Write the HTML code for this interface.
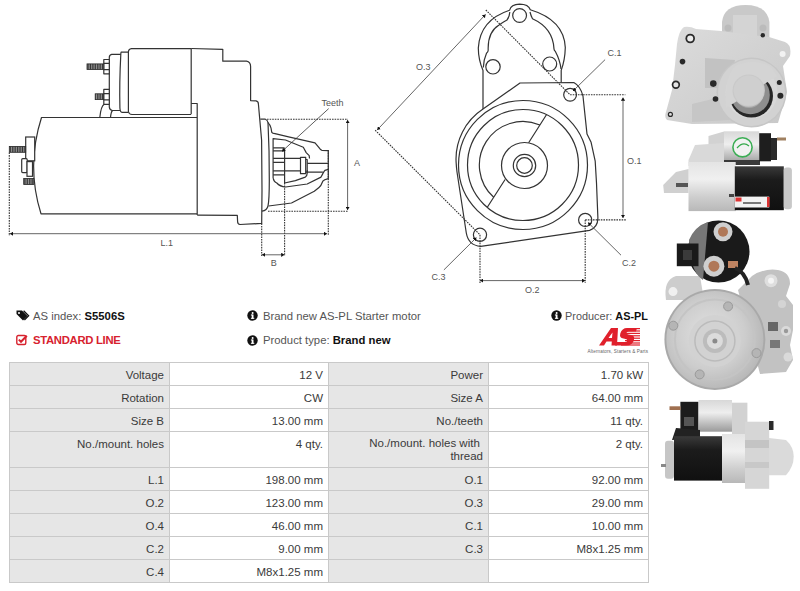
<!DOCTYPE html>
<html><head><meta charset="utf-8">
<style>
html,body{margin:0;padding:0;background:#fff;}
body{width:800px;height:591px;overflow:hidden;position:relative;font-family:"Liberation Sans",sans-serif;color:#333;}
.a{position:absolute;}
.t{position:absolute;white-space:nowrap;font-size:11.3px;line-height:14px;}
table{position:absolute;left:9px;top:362px;border-collapse:collapse;table-layout:fixed;font-size:11.5px;color:#3a3a3a;}
td{border:1px solid #c9c9c9;padding:0 5px 0 0;text-align:right;vertical-align:top;height:23px;line-height:14px;box-sizing:border-box;}
td div{padding-top:5px;}
td.l{background:#e6e6e6;}
td.v{background:#fff;}
tr.tall td{height:36px;}
</style></head><body>

<!--DRAWINGS-->
<svg class="a" style="left:0;top:0" width="650" height="300" viewBox="0 0 650 300">
<defs>
<pattern id="th" width="1.7" height="4" patternUnits="userSpaceOnUse"><rect width="1.7" height="4" fill="#bbb"/><rect width="1.1" height="4" fill="#333"/></pattern>
<marker id="ah" viewBox="0 0 3.2 4.2" refX="3.2" refY="2.1" markerWidth="3.2" markerHeight="4.2" markerUnits="userSpaceOnUse" orient="auto-start-reverse"><path d="M0 0 L3.2 2.1 L0 4.2 Z" fill="#111"/></marker>
</defs>
<g fill="none" stroke="#333" stroke-width="1.2" stroke-linejoin="round">
<!-- side view: motor -->
<path d="M197 117.5 L41.5 117.5 Q26 166 41 213.8 L197 213.8"/>
<!-- solenoid -->
<path d="M191.2 48.6 L131.5 48.6 Q128.4 49 128.4 52.2 L128.4 111.5 Q129 114.5 132 114.5 L191.2 114.5"/>
<path d="M128.4 52.05 L121.3 52.05 Q120.8 52.5 120.8 54.4 Q119.3 83 119.9 108 Q120.2 112.3 122 112.3 L128.4 112.3"/>
<path d="M120.8 54.4 L111.7 54.4 Q109.3 55 109.3 57.5 L109.3 107.2 Q109.8 110.5 112.5 110.5 L120 110.5"/>
<!-- solenoid mounting feet -->
<path d="M99.8 117.5 Q101 106 104.2 104.3"/>
<path d="M110.5 117.5 Q111 112 112.5 110.5"/>
<!-- bolts -->
<rect x="103.8" y="59.5" width="5.5" height="14.3" fill="#fff"/><path d="M103.8 63.3 H109.3 M103.8 69.7 H109.3"/>
<rect x="103.8" y="89.4" width="5.5" height="14.9" fill="#fff"/><path d="M103.8 93.6 H109.3 M103.8 99.9 H109.3"/>
<!-- housing -->
<path d="M191.2 48.5 L222.8 49.3 L222.8 61.2 L246.5 61.2 Q250.6 62 250.6 66.5 L250.6 100.6 L256 100.8 Q258.4 101.3 258.4 104 L261.6 140 L262 190 L261.7 223.4 L240 224.5 Q237.6 224.3 237.6 221.5 L237.3 215.4 L197.2 215.1"/>
<path d="M191.2 103.5 L197.2 103.5 L197.2 215.1"/>
<path d="M191.2 48.5 L191.2 114"/>
<!-- flange -->
<path d="M260.3 119.2 L265.4 119.2 Q267.5 120 268 122.5 Q269.4 150 269.3 180 Q269.3 200 268 206 Q267 210.3 262 211.2"/>
<!-- nose outer -->
<path d="M267.8 122.3 Q270.5 125 271 128 L271.8 132.3 Q272.5 133.3 275 133.6 L288.6 136.9 L315 142.8 L319 147.7 Q320.5 150 322 150.3 L328.3 150.6 L328.3 178.6 Q324 179.5 322.8 181.2 Q321 186 319 187.5 L314.3 191.3 L291.5 203 L268.6 206"/>
<!-- pocket -->
<path d="M273.1 178.1 L273.1 138.6 L285.5 140 L303.3 147.2 L306.2 152.6 L309.2 155.6 L309.5 158.5"/>
<path d="M273.1 178.1 Q274 182 276.8 183 Q280 186.5 285.6 187 L307.2 184 L321 177.1 Q323.5 172 324.9 170.3 L328.3 169.3"/>
<path d="M284.6 183 L295.4 180.6 L305.3 177.1 Q307.2 175.5 307.2 173.2 L307.2 170.3"/>
<path d="M284.6 148.2 L284.6 183"/>
<path d="M273.1 147.8 H284.6 M273.1 150.8 H284.6 M273.1 158.3 H284.6 M273.1 162.3 H284.6 M273.1 170.8 H284.6 M273.1 174.9 H284.6"/>
<path d="M284.6 158.3 H300.5 M284.6 170.8 H300.5"/>
<rect x="300.5" y="157.3" width="5.2" height="16.4"/>
<path d="M305.7 159.5 H307.2 V172.2 H305.7"/>
<path d="M307.2 163.4 H328.3 M307.2 172.2 H322.9"/>
<!-- teeth leader -->
<path d="M328.7 108.6 L282 151.4" marker-end="url(#ah)" stroke-width="0.8"/>
</g>
<!-- threads -->
<rect x="87" y="63.9" width="16.8" height="5.6" fill="url(#th)" stroke="#262626" stroke-width="0.8"/>
<rect x="95.2" y="93.8" width="8.5" height="5.8" fill="url(#th)" stroke="#262626" stroke-width="0.8"/>
<!-- rear terminals -->
<g fill="#fff" stroke="#333" stroke-width="1.2">
<rect x="25.7" y="137" width="9" height="23.8"/>
<rect x="21.7" y="158.7" width="5.5" height="13.9" rx="1"/>
<rect x="27" y="161.6" width="5.5" height="14.7"/>
</g>
<rect x="9.3" y="146.4" width="16.4" height="5.9" fill="url(#th)" stroke="#262626" stroke-width="0.8"/>
<rect x="23.7" y="178.5" width="10.1" height="6" fill="url(#th)" stroke="#262626" stroke-width="0.8"/>

<!-- side view dims -->
<g fill="none" stroke="#333" stroke-width="1.1" stroke-dasharray="1.6 1">
<path d="M9.3 152.5 V236"/>
<path d="M267 119.2 H348"/>
<path d="M268 211.2 H348"/>
<path d="M328.3 150 V235"/>
<path d="M261.7 223.4 V256"/>
<path d="M284.6 183 V256"/>
</g>
<g fill="none" stroke="#555" stroke-width="0.9">
<path d="M10 233.7 H327" marker-start="url(#ah)" marker-end="url(#ah)"/>
<path d="M347.6 120 V210" marker-start="url(#ah)" marker-end="url(#ah)"/>
<path d="M262 254.8 H284.4" marker-start="url(#ah)" marker-end="url(#ah)"/>
</g>
<g font-family="Liberation Sans" font-size="9" fill="#555">
<text x="160.5" y="245.6">L.1</text>
<text x="270.8" y="265.8">B</text>
<text x="354" y="166">A</text>
<text x="321.5" y="106">Teeth</text>
</g>

<!-- FRONT VIEW -->
<g fill="none" stroke="#333" stroke-width="1.2" stroke-linejoin="round">
<!-- ear -->
<path d="M483 109 L483 70.4 Q478.4 60 478.3 48 Q480 20 509.5 10.3 Q511 4.3 519.6 4.2 Q528.5 4.3 530.3 9.8 Q564 20 565.3 47.5 Q565 60 561.2 70.4 L561.2 82.5"/>
<path d="M483.3 67.5 Q483.5 60 486.5 53.2 Q488.2 52 488.2 50.3 Q487.5 32 498.7 25.2 Q505 21 507 20 Q509.5 17 509.8 12"/>
<path d="M561 69 Q560 60 555.5 51.7 Q554 50 554 48.9 Q553 28 532.5 18.7 Q531 16 530 12"/>
<circle cx="519.6" cy="15.5" r="6.9"/>
<circle cx="493" cy="66.8" r="7.2"/>
<circle cx="549.7" cy="64" r="7"/>
<!-- housing plate -->
<path d="M573.8 82.5 L520 83 L483 109 A59.8 59.8 0 0 0 456.1 162 Q456.3 166 457 172 L466.3 233 Q468.5 245.5 480.7 246.3 L589.6 230.4 Q597.8 227.5 597.9 218 L596.5 182.9 L595.2 161.2 L591.1 142.3 L587 134.1 L583 96.2 Q580.5 86 573.8 82.5 Z"/>
<circle cx="523" cy="165" r="64.5"/>
<circle cx="523" cy="165" r="55.5"/>
<path d="M539.9 125 A43.5 43.5 0 0 0 493.7 197.3"/>
<path d="M546.6 114.5 L528.6 142.7 M505.1 179.5 L487.3 207.3"/>
<circle cx="524.5" cy="165.5" r="23"/>
<circle cx="524.5" cy="165.5" r="11.2"/>
<circle cx="524.5" cy="165.5" r="7.8"/>
<circle cx="570.1" cy="94.8" r="6.4"/>
<circle cx="480" cy="234.8" r="6.6"/>
<circle cx="585.2" cy="219.9" r="6.6"/>
</g>
<g fill="none" stroke="#333" stroke-width="1.1" stroke-dasharray="1.6 1">
<path d="M485.8 10 L570.1 94.8"/>
<path d="M375.2 130.2 L480 234.8"/>
<path d="M570.1 94.8 H625.4"/>
<path d="M585.2 219.9 H625.9"/>
<path d="M480 234.8 V283"/>
<path d="M585.2 219.9 V283"/>
</g>
<g fill="none" stroke="#555" stroke-width="0.9">
<path d="M485.6 14.4 L377.2 130" marker-start="url(#ah)" marker-end="url(#ah)"/>
<path d="M623 97.5 V218" marker-start="url(#ah)" marker-end="url(#ah)"/>
<path d="M480 280.6 H585.2" marker-start="url(#ah)" marker-end="url(#ah)"/>
<path d="M605.1 59.6 L573 91" marker-end="url(#ah)"/>
<path d="M621 255.2 L588 222.5" marker-end="url(#ah)"/>
<path d="M443.9 269.9 L476.5 237.5" marker-end="url(#ah)"/>
</g>
<g font-family="Liberation Sans" font-size="9" fill="#555">
<text x="416" y="70.3">O.3</text>
<text x="607.5" y="55.8">C.1</text>
<text x="627" y="163.6">O.1</text>
<text x="622" y="265.7">C.2</text>
<text x="431.5" y="279.7">C.3</text>
<text x="525" y="293.4">O.2</text>
</g>
</svg>

<!--/DRAWINGS-->

<!-- info rows -->
<svg class="a" style="left:16px;top:310px" width="14" height="12" viewBox="0 0 14 12"><path d="M0.5 0.5 H6 L11.5 6 L7 10.5 L0.5 4 Z" fill="#111"/><circle cx="3" cy="3" r="1" fill="#fff"/><path d="M7.6 0.8 L12.6 5.8 L8.4 10" fill="none" stroke="#111" stroke-width="1.3"/></svg>
<div class="t" style="left:33px;top:309px;color:#555">AS index: <b style="color:#111">S5506S</b></div>
<svg class="a" style="left:16px;top:334px" width="12" height="12" viewBox="0 0 12 12"><rect x="0.8" y="1.5" width="9" height="9" rx="1.5" fill="none" stroke="#d7222e" stroke-width="1.4"/><path d="M2.8 5.6 L5 7.8 L10.8 1.8" fill="none" stroke="#d7222e" stroke-width="2"/></svg>
<div class="t" style="left:33px;top:333px;color:#d7222e;font-weight:bold;letter-spacing:-0.3px">STANDARD LINE</div>

<svg class="a" style="left:247px;top:310px" width="11" height="11" viewBox="0 0 11 11"><circle cx="5.5" cy="5.5" r="5.2" fill="#111"/><rect x="4.7" y="4.5" width="1.8" height="4.2" fill="#fff"/><rect x="3.9" y="4.5" width="1.6" height="1" fill="#fff"/><rect x="3.9" y="7.8" width="3.4" height="1" fill="#fff"/><circle cx="5.6" cy="2.9" r="1" fill="#fff"/></svg>
<div class="t" style="left:263px;top:309px;color:#555">Brand new AS-PL Starter motor</div>
<svg class="a" style="left:247px;top:335px" width="11" height="11" viewBox="0 0 11 11"><circle cx="5.5" cy="5.5" r="5.2" fill="#111"/><rect x="4.7" y="4.5" width="1.8" height="4.2" fill="#fff"/><rect x="3.9" y="4.5" width="1.6" height="1" fill="#fff"/><rect x="3.9" y="7.8" width="3.4" height="1" fill="#fff"/><circle cx="5.6" cy="2.9" r="1" fill="#fff"/></svg>
<div class="t" style="left:263px;top:333px;color:#555">Product type: <b style="color:#111">Brand new</b></div>

<svg class="a" style="left:551px;top:310px" width="11" height="11" viewBox="0 0 11 11"><circle cx="5.5" cy="5.5" r="5.2" fill="#111"/><rect x="4.7" y="4.5" width="1.8" height="4.2" fill="#fff"/><rect x="3.9" y="4.5" width="1.6" height="1" fill="#fff"/><rect x="3.9" y="7.8" width="3.4" height="1" fill="#fff"/><circle cx="5.6" cy="2.9" r="1" fill="#fff"/></svg>
<div class="t" style="right:152px;top:309px;color:#555;font-size:10.9px">Producer: <b style="color:#111">AS-PL</b></div>

<!-- AS logo -->
<svg class="a" style="left:585px;top:326px" width="65" height="30" viewBox="0 0 65 30">
<path d="M14 19.5 L26 2 L33 2 L32 19.5 L26.5 19.5 L26.8 15.5 L21.5 15.5 L19 19.5 Z M23.5 12 L27 12 L27.5 6.5 Z" fill="#e0202c" fill-rule="evenodd"/>
<path d="M42 2 L52 2 L51 5.5 L43.5 5.5 Q41.5 5.5 41.5 7 Q41.5 8.2 43.5 8.5 L46 9 Q50 9.8 49 13.5 Q48 19.5 41 19.5 L30 19.5 L31 16 L40 16 Q42 16 42.3 14.5 Q42.5 13.2 40.5 13 L38.5 12.6 Q34 11.8 35.3 7.5 Q37 2 42 2 Z" fill="#e0202c"/>
<g fill="#e0202c"><rect x="42" y="2" width="13" height="1.2"/><rect x="41" y="4.4" width="14" height="1.2"/><rect x="40" y="6.8" width="15" height="1.2"/><rect x="40" y="9.2" width="15" height="1.2"/><rect x="40" y="11.6" width="15" height="1.2"/><rect x="40" y="14" width="15" height="1.2"/><rect x="38" y="16.4" width="17" height="1.2"/><rect x="36" y="18.4" width="19" height="1.2"/></g>
<text x="2.5" y="26.5" font-size="4.6" fill="#666" font-family="Liberation Sans" textLength="60.5">Alternators, Starters &amp; Parts</text>
</svg>

<table>
<colgroup><col style="width:160px"><col style="width:159px"><col style="width:160px"><col style="width:160px"></colgroup>
<tr><td class="l"><div>Voltage</div></td><td class="v"><div>12 V</div></td><td class="l"><div>Power</div></td><td class="v"><div>1.70 kW</div></td></tr>
<tr><td class="l"><div>Rotation</div></td><td class="v"><div>CW</div></td><td class="l"><div>Size A</div></td><td class="v"><div>64.00 mm</div></td></tr>
<tr><td class="l"><div>Size B</div></td><td class="v"><div>13.00 mm</div></td><td class="l"><div>No./teeth</div></td><td class="v"><div>11 qty.</div></td></tr>
<tr class="tall"><td class="l"><div>No./mount. holes</div></td><td class="v"><div>4 qty.</div></td><td class="l"><div style="line-height:13.4px">No./mount. holes with&nbsp;<br>thread</div></td><td class="v"><div>2 qty.</div></td></tr>
<tr><td class="l"><div>L.1</div></td><td class="v"><div>198.00 mm</div></td><td class="l"><div>O.1</div></td><td class="v"><div>92.00 mm</div></td></tr>
<tr><td class="l"><div>O.2</div></td><td class="v"><div>123.00 mm</div></td><td class="l"><div>O.3</div></td><td class="v"><div>29.00 mm</div></td></tr>
<tr><td class="l"><div>O.4</div></td><td class="v"><div>46.00 mm</div></td><td class="l"><div>C.1</div></td><td class="v"><div>10.00 mm</div></td></tr>
<tr><td class="l"><div>C.2</div></td><td class="v"><div>9.00 mm</div></td><td class="l"><div>C.3</div></td><td class="v"><div>M8x1.25 mm</div></td></tr>
<tr><td class="l"><div>C.4</div></td><td class="v"><div>M8x1.25 mm</div></td><td class="l"><div></div></td><td class="v"><div></div></td></tr>
</table>

<!--PHOTOS-->
<svg class="a" style="left:650px;top:0" width="150" height="500" viewBox="650 0 150 500">
<defs>
<linearGradient id="gv" x1="0" y1="0" x2="0" y2="1"><stop offset="0" stop-color="#e4e4e4"/><stop offset="0.35" stop-color="#f0f0f0"/><stop offset="0.7" stop-color="#cfcfcf"/><stop offset="1" stop-color="#b8b8b8"/></linearGradient>
<linearGradient id="gk" x1="0" y1="0" x2="0" y2="1"><stop offset="0" stop-color="#3a3a3a"/><stop offset="0.3" stop-color="#1c1c1c"/><stop offset="1" stop-color="#101010"/></linearGradient>
<linearGradient id="gs" x1="0" y1="0" x2="0" y2="1"><stop offset="0" stop-color="#d8d8d8"/><stop offset="0.4" stop-color="#eeeeee"/><stop offset="0.75" stop-color="#bdbdbd"/><stop offset="1" stop-color="#9a9a9a"/></linearGradient>
<linearGradient id="gp" x1="0" y1="0" x2="1" y2="1"><stop offset="0" stop-color="#dcdcdc"/><stop offset="0.5" stop-color="#d2d2d2"/><stop offset="1" stop-color="#c8c8c8"/></linearGradient>
<radialGradient id="gf" cx="0.45" cy="0.45" r="0.6"><stop offset="0" stop-color="#e2e2e2"/><stop offset="0.6" stop-color="#cdcdcd"/><stop offset="1" stop-color="#b5b5b5"/></radialGradient>
</defs>
<!-- PHOTO 1: front view -->
<g>
<path d="M722 37 L722 22 Q724 5 745.5 5 Q767 5 769.4 22 L769.4 38 Z" fill="#c9c9c9"/>
<rect x="733" y="15" width="24" height="24" fill="#d4d4d4"/>
<path d="M684 27 Q690 26 696 29 L721 31 L769 37 L785 42 Q792 45 790 56 L783 66 L787 92 L778 123 L692 124 L667 120 Q664 117 666 112 L672 90 L675 65 L677 44 Q679 30 684 27 Z" fill="url(#gp)"/>
<path d="M705 58 L735 60 L730 88 L705 88 Z" fill="#c2c2c2"/>
<path d="M692 104 L725 96 L730 120 L692 122 Z" fill="#c6c6c6"/>
<circle cx="751.5" cy="92.5" r="35" fill="#c6c6c6"/>
<circle cx="751.5" cy="92.5" r="33.5" fill="#d2d2d2"/>
<circle cx="751.5" cy="92.5" r="26" fill="#d8d8d8"/>
<circle cx="751.4" cy="96" r="21.6" fill="#262626"/>
<circle cx="750.5" cy="95" r="19.3" fill="#8e8e8e"/>
<circle cx="749" cy="94" r="14" fill="#a8a8a8"/>
<path d="M726 108 L777 76 L770 66 Q752 58 735 66 Q724 78 726 108 Z" fill="#d4d4d4"/>
<circle cx="748.7" cy="90.6" r="16.2" fill="#c9c9c9"/>
<circle cx="748.7" cy="90.6" r="15" fill="#cfcfcf"/>
<g fill="#2a2a2a">
<circle cx="690.2" cy="38.5" r="4.8"/><circle cx="682.5" cy="61.6" r="2.8"/><circle cx="675.9" cy="84.7" r="4.2"/><circle cx="670.4" cy="114.4" r="2.6"/>
<circle cx="713.3" cy="83.6" r="3.3"/><circle cx="715.5" cy="99" r="2.8"/><circle cx="779.3" cy="82.5" r="2.5"/><circle cx="780.4" cy="95.7" r="3"/><circle cx="762.8" cy="35.2" r="2.2"/>
</g>
<circle cx="690.2" cy="38.5" r="3" fill="#ececec"/><circle cx="675.9" cy="84.7" r="2.5" fill="#e4e4e4"/><circle cx="670.4" cy="114.4" r="1.4" fill="#ddd"/>
<circle cx="782.6" cy="53.9" r="3" fill="#f2f2f2"/>
<circle cx="728" cy="28" r="3.5" fill="#bbb"/><circle cx="763" cy="28" r="3.5" fill="#bbb"/>
</g>
<!-- PHOTO 2: side view -->
<g>
<path d="M708.5 136 L724 131.5 L724 164 L708.5 164 Z" fill="#d2d2d2"/>
<rect x="724" y="131.3" width="35.2" height="32.7" fill="url(#gs)"/>
<rect x="724" y="160" width="36" height="5" fill="#3a3a3a"/>
<circle cx="742.5" cy="147.3" r="9.6" fill="#f2f2f2" stroke="#3cae55" stroke-width="1.6"/>
<path d="M737 148 Q743 141 749 146" fill="none" stroke="#33a84a" stroke-width="1.2"/>
<rect x="759.2" y="133.2" width="11.8" height="28.1" fill="#1e1e1e"/>
<rect x="771" y="138" width="6" height="22" fill="#2a2a2a"/>
<rect x="777" y="137.5" width="9" height="3" fill="#a08060"/>
<path d="M695 145 L724 143 L724 166 L688.5 166 L688.5 160 Z" fill="#d9d9d9"/>
<rect x="688.5" y="162" width="47.2" height="49.1" fill="url(#gv)"/>
<path d="M663.2 185 L676 172 L688.5 169 L688.5 193 L664 193 Z" fill="#d0d0d0"/>
<rect x="676" y="183" width="12" height="4" fill="#555"/>
<rect x="734.8" y="166.3" width="49" height="43.9" fill="url(#gk)"/>
<rect x="783.7" y="167.6" width="8.2" height="41.7" rx="3" fill="#c8c8c8"/>
<rect x="734.8" y="196.6" width="34.4" height="10.9" fill="#f2f2f2"/>
<rect x="735.5" y="197.5" width="6" height="4" fill="#d33"/>
<rect x="767" y="197" width="2.5" height="10" fill="#d33"/>
<rect x="743" y="202" width="18" height="2" fill="#777"/>
<rect x="729" y="194" width="5" height="3" fill="#444"/>
</g>
<!-- PHOTO 3: rear view -->
<g>
<path d="M666 300 Q663 280 676 276 L700 276 L704 300 Z" fill="#cdcdcd"/>
<circle cx="673" cy="291.6" r="4.5" fill="#f0f0f0"/>
<path d="M738 290 L752 276 Q764 268 778 270 Q790 272 790 284 L786 296 L793 305 L793 330 L790 345 L793 360 L786 372 L760 374 Z" fill="#c2c2c2"/>
<circle cx="771" cy="280.7" r="6.5" fill="#dedede"/><circle cx="771" cy="280.7" r="3" fill="#f4f4f4"/>
<rect x="768" y="322" width="10" height="9" fill="#666"/>
<rect x="770" y="340" width="10" height="8" fill="#777"/>
<circle cx="786" cy="331" r="5" fill="#dadada"/><circle cx="786" cy="331" r="2.2" fill="#999"/>
<circle cx="788" cy="357" r="4.5" fill="#dadada"/>
<circle cx="782" cy="304" r="4" fill="#d4d4d4"/>
<circle cx="718.5" cy="251.5" r="31" fill="#1a1a1a"/>
<path d="M689 240 Q695 226 708 222 L703 280 Q690 272 689 240 Z" fill="#777"/>
<rect x="676.8" y="243.5" width="21.7" height="22.7" fill="#1a1a1a"/>
<rect x="683" y="250" width="9" height="10" fill="#3a3a3a"/>
<circle cx="723" cy="231.8" r="9.5" fill="#cfcfcf"/><circle cx="723" cy="231.8" r="5" fill="#b07858"/>
<circle cx="713.9" cy="266.2" r="10.5" fill="#cfcfcf"/><circle cx="713.9" cy="266.2" r="5.5" fill="#b07858"/>
<rect x="728" y="261" width="10" height="7" fill="#c08462"/>
<path d="M735 268 Q745 272 748 285" fill="none" stroke="#222" stroke-width="4"/>
<circle cx="714.9" cy="339.4" r="50.5" fill="#a9a9a9"/>
<circle cx="714.9" cy="339.4" r="48.5" fill="url(#gf)"/>
<circle cx="714.9" cy="339.4" r="40" fill="none" stroke="#c4c4c4" stroke-width="2"/>
<circle cx="714.9" cy="340.9" r="26" fill="#d2d2d2"/>
<circle cx="714.9" cy="340.9" r="20" fill="none" stroke="#bbb" stroke-width="1.5"/>
<circle cx="714.9" cy="340.9" r="12" fill="#bcbcbc"/>
<circle cx="714.9" cy="340.9" r="8" fill="#dcdcdc"/>
<circle cx="714.9" cy="340.9" r="2.5" fill="#8a8a8a"/>
<g fill="#b5b5b5" stroke="#9a9a9a" stroke-width="1"><circle cx="728.1" cy="306.4" r="4.5"/><circle cx="673.3" cy="325.7" r="4.5"/><circle cx="756.5" cy="353.1" r="4.5"/><circle cx="699.7" cy="374.4" r="4.5"/></g>
</g>
<!-- PHOTO 4: side view 2 -->
<g>
<rect x="680.4" y="401.8" width="18.1" height="29" fill="#1c1c1c"/>
<rect x="669.5" y="406.3" width="11" height="3.7" fill="#a07050"/>
<rect x="684" y="417" width="10" height="9" fill="#555"/>
<rect x="698.5" y="400" width="33.5" height="31.7" fill="url(#gs)"/>
<rect x="732" y="402.7" width="15.4" height="32.6" fill="#d2d2d2"/>
<path d="M672 440 L676 428 L700 430 L700 438 Z" fill="#222"/>
<rect x="722" y="434" width="24" height="49" fill="url(#gv)"/>
<rect x="745" y="421.7" width="24.2" height="67.1" fill="#d6d6d6"/>
<rect x="745" y="440" width="24.2" height="8" fill="#c4c4c4"/>
<rect x="745" y="462" width="24.2" height="6" fill="#c8c8c8"/>
<path d="M769 438 L786 440 Q793.7 447 793.7 456.6 Q793.7 467 786 475.2 L769 475.2 Z" fill="#dadada"/>
<rect x="769" y="421" width="4.5" height="9" fill="#2a2a2a"/>
<rect x="674" y="436.2" width="48" height="44.4" fill="url(#gk)"/>
<rect x="665" y="440.8" width="9" height="38" rx="3" fill="#c6c6c6"/>
<rect x="661" y="464" width="5" height="3" fill="#888"/>
</g>
</svg>

<!--/PHOTOS-->

</body></html>
